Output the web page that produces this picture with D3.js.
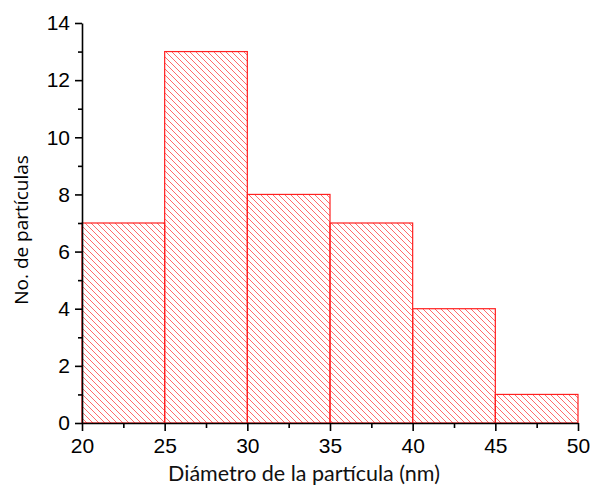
<!doctype html>
<html lang="es">
<head>
<meta charset="utf-8">
<script src="https://cdn.jsdelivr.net/npm/d3@7"></script>
<style>
  body { margin: 0; background: #fff; }
  .tick text { font-family: "Liberation Sans", Arial, sans-serif; font-size: 21px; fill: #000; }
  .xlbl { font-family: "Lato", "Open Sans", sans-serif; font-size: 21.5px; fill: #111; }
  .ylbl { font-family: "Open Sans", "Noto Sans", sans-serif; font-size: 19px; fill: #000; }
</style>
</head>
<body>
<svg id="chart" width="593" height="492"></svg>
<script>
// bins (nm) and counts
const binStart = [20, 25, 30, 35, 40, 45];
const binWidth = 5;
const counts = [7, 13, 8, 7, 4, 1];
const xTicks = [20, 25, 30, 35, 40, 45, 50];
const yTicks = [0, 2, 4, 6, 8, 10, 12, 14];

const svg = d3.select("#chart");

const x = d3.scaleLinear().domain([20, 50]).range([82, 578]);
const y = d3.scaleLinear().domain([0, 14]).range([423, 23]);

// hatch pattern
const defs = svg.append("defs");
const pat = defs.append("pattern")
    .attr("id", "hatch")
    .attr("patternUnits", "userSpaceOnUse")
    .attr("width", 6).attr("height", 6);
pat.append("path")
    .attr("d", "M-1,-1 L7,7 M-4,2 L2,8 M4,-2 L8,2")
    .attr("stroke", "#ff3030")
    .attr("stroke-width", 0.9)
    .attr("opacity", 0.8);

svg.append("g").selectAll("rect")
    .data(counts)
    .join("rect")
    .attr("x", (d, i) => x(binStart[i]))
    .attr("y", d => y(d))
    .attr("width", (d, i) => x(binStart[i] + binWidth) - x(binStart[i]))
    .attr("height", d => y(0) - y(d))
    .attr("fill", "url(#hatch)")
    .attr("stroke", "#ff2020")
    .attr("stroke-width", 1.2);

// minor ticks
const xMinor = d3.range(22.5, 50, 5);
const yMinor = d3.range(1, 14, 2);

svg.append("g").attr("transform", `translate(0,${y(0)})`)
    .call(d3.axisBottom(x).tickValues(xTicks).tickSize(8).tickPadding(7).tickSizeOuter(0));
svg.append("g").attr("transform", `translate(0,${y(0)})`)
    .call(d3.axisBottom(x).tickValues(xMinor).tickSize(5).tickFormat("").tickSizeOuter(0))
    .select(".domain").remove();

svg.append("g").attr("transform", `translate(${x(20)},0)`)
    .call(d3.axisLeft(y).tickValues(yTicks).tickSize(7).tickPadding(5).tickSizeOuter(0));
svg.append("g").attr("transform", `translate(${x(20)},0)`)
    .call(d3.axisLeft(y).tickValues(yMinor).tickSize(4).tickFormat("").tickSizeOuter(0))
    .select(".domain").remove();

svg.selectAll(".domain, .tick line").attr("stroke", "#000").attr("stroke-width", 1.6);

svg.append("text").attr("class", "xlbl")
    .attr("x", 304).attr("y", 481)
    .attr("text-anchor", "middle")
    .text("Diámetro de la partícula (nm)");

svg.append("text").attr("class", "ylbl")
    .attr("transform", "translate(28,230) rotate(-90)")
    .attr("text-anchor", "middle")
    .text("No. de partículas");
</script>
</body>
</html>
